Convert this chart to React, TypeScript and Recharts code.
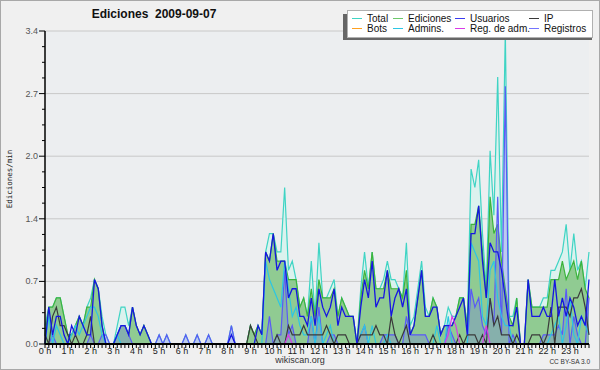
import React from 'react';
import { ComposedChart, Area, Line, XAxis, YAxis, CartesianGrid } from 'recharts';

// one point per 10 minutes, 6 per hour, 0 h .. 23:50
const HOURS = Array.from({ length: 24 }, (_, h) => `${h} h`);
const SLOTS = Array.from({ length: 144 }, (_, i) => i);

// edits per minute (rows = hours)
const total = [
  0.2, 0.4, 0.4, 0.5, 0.5, 0.3,
  0.1, 0.1, 0.2, 0.3, 0.2, 0.4,
  0.5, 0.7, 0.6, 0.3, 0.1, 0.0,
  0.0, 0.2, 0.4, 0.4, 0.2, 0.4,
  0.2, 0.1, 0.2, 0.1, 0.0, 0.0,
  0.1, 0.0, 0.1, 0.0, 0.0, 0.0,
  0.0, 0.1, 0.0, 0.0, 0.1, 0.0,
  0.0, 0.1, 0.0, 0.0, 0.0, 0.0,
  0.0, 0.2, 0.0, 0.0, 0.0, 0.0,
  0.2, 0.1, 0.2, 0.1, 1.0, 1.2,
  1.2, 1.0, 1.0, 1.7, 0.8, 0.9,
  0.7, 0.4, 0.5, 0.3, 0.9, 0.3,
  1.1, 0.5, 0.5, 0.6, 0.7, 0.3,
  0.5, 0.4, 0.3, 0.3, 0.0, 0.6,
  1.0, 0.6, 1.0, 0.6, 0.6, 0.7,
  0.9, 0.7, 0.7, 0.6, 0.5, 1.1,
  0.2, 0.3, 0.6, 0.9, 0.4, 0.3,
  0.5, 0.4, 0.1, 0.2, 0.4, 0.3,
  0.3, 0.5, 0.5, 0.2, 1.9, 1.7,
  2.0, 1.2, 0.6, 2.1, 1.4, 2.9,
  1.0, 3.4, 0.3, 0.3, 0.5, 0.0,
  0.0, 0.7, 0.4, 0.4, 0.4, 0.5,
  0.5, 0.8, 0.8, 0.9, 1.0, 1.3,
  0.8, 1.2, 0.8, 0.9, 0.6, 1.0,
];

const ediciones = [
  0.1, 0.4, 0.4, 0.5, 0.5, 0.3,
  0.1, 0.1, 0.2, 0.3, 0.2, 0.4,
  0.4, 0.7, 0.6, 0.2, 0.0, 0.0,
  0.0, 0.1, 0.2, 0.2, 0.1, 0.4,
  0.2, 0.1, 0.2, 0.1, 0.0, 0.0,
  0.0, 0.0, 0.0, 0.0, 0.0, 0.0,
  0.0, 0.0, 0.0, 0.0, 0.0, 0.0,
  0.0, 0.0, 0.0, 0.0, 0.0, 0.0,
  0.0, 0.0, 0.0, 0.0, 0.0, 0.0,
  0.2, 0.1, 0.2, 0.1, 1.0, 0.9,
  1.2, 0.9, 0.9, 0.9, 0.7, 0.7,
  0.7, 0.4, 0.5, 0.3, 0.6, 0.3,
  0.7, 0.5, 0.5, 0.5, 0.6, 0.3,
  0.5, 0.4, 0.3, 0.3, 0.0, 0.5,
  0.8, 0.6, 1.0, 0.6, 0.6, 0.6,
  0.8, 0.6, 0.6, 0.6, 0.5, 0.8,
  0.1, 0.2, 0.5, 0.8, 0.3, 0.3,
  0.5, 0.4, 0.1, 0.2, 0.2, 0.2,
  0.3, 0.5, 0.5, 0.2, 1.3, 1.3,
  1.5, 1.0, 0.5, 1.6, 1.2, 1.3,
  0.9, 0.6, 0.3, 0.2, 0.5, 0.0,
  0.0, 0.7, 0.4, 0.4, 0.4, 0.4,
  0.4, 0.7, 0.7, 0.7, 0.9, 0.7,
  0.8, 0.9, 0.7, 0.9, 0.6, 0.5,
];

const usuarios = [
  0.0, 0.4, 0.1, 0.3, 0.3, 0.1,
  0.0, 0.2, 0.1, 0.3, 0.2, 0.1,
  0.1, 0.7, 0.6, 0.2, 0.0, 0.0,
  0.0, 0.1, 0.2, 0.2, 0.1, 0.4,
  0.2, 0.1, 0.2, 0.1, 0.0, 0.0,
  0.0, 0.0, 0.0, 0.0, 0.0, 0.0,
  0.0, 0.0, 0.0, 0.0, 0.0, 0.0,
  0.0, 0.0, 0.0, 0.0, 0.0, 0.0,
  0.0, 0.1, 0.0, 0.0, 0.0, 0.0,
  0.0, 0.0, 0.2, 0.1, 1.0, 0.9,
  1.2, 0.8, 0.9, 0.9, 0.5, 0.6,
  0.6, 0.3, 0.3, 0.2, 0.5, 0.2,
  0.6, 0.4, 0.3, 0.4, 0.6, 0.2,
  0.4, 0.3, 0.3, 0.3, 0.0, 0.4,
  0.7, 0.5, 0.9, 0.4, 0.5, 0.5,
  0.8, 0.3, 0.5, 0.6, 0.4, 0.6,
  0.1, 0.2, 0.5, 0.8, 0.3, 0.3,
  0.4, 0.4, 0.1, 0.2, 0.2, 0.2,
  0.3, 0.4, 0.5, 0.1, 1.2, 1.2,
  1.5, 0.9, 0.5, 1.1, 1.0, 1.0,
  0.8, 0.5, 0.2, 0.2, 0.4, 0.0,
  0.0, 0.7, 0.3, 0.3, 0.3, 0.4,
  0.3, 0.3, 0.7, 0.3, 0.5, 0.3,
  0.5, 0.4, 0.2, 0.3, 0.2, 0.7,
];

const ip = [
  0.1, 0.0, 0.3, 0.4, 0.2, 0.2,
  0.1, 0.0, 0.1, 0.0, 0.0, 0.1,
  0.3, 0.0, 0.0, 0.0, 0.0, 0.0,
  0.0, 0.0, 0.0, 0.0, 0.0, 0.0,
  0.0, 0.0, 0.0, 0.0, 0.0, 0.0,
  0.0, 0.0, 0.0, 0.0, 0.0, 0.0,
  0.0, 0.0, 0.0, 0.0, 0.0, 0.0,
  0.0, 0.0, 0.0, 0.0, 0.0, 0.0,
  0.0, 0.0, 0.0, 0.0, 0.0, 0.0,
  0.2, 0.1, 0.0, 0.0, 0.0, 0.0,
  0.0, 0.1, 0.0, 0.0, 0.2, 0.1,
  0.1, 0.1, 0.2, 0.1, 0.1, 0.1,
  0.1, 0.1, 0.2, 0.1, 0.0, 0.1,
  0.1, 0.1, 0.0, 0.0, 0.0, 0.1,
  0.1, 0.1, 0.1, 0.2, 0.1, 0.1,
  0.0, 0.3, 0.1, 0.0, 0.1, 0.2,
  0.0, 0.0, 0.0, 0.0, 0.0, 0.0,
  0.1, 0.0, 0.0, 0.0, 0.0, 0.0,
  0.0, 0.1, 0.0, 0.1, 0.1, 0.1,
  0.0, 0.1, 0.0, 0.5, 0.2, 0.3,
  0.1, 0.1, 0.1, 0.0, 0.1, 0.0,
  0.0, 0.0, 0.1, 0.1, 0.1, 0.0,
  0.1, 0.4, 0.0, 0.4, 0.4, 0.4,
  0.3, 0.5, 0.5, 0.6, 0.4, 0.1,
];

const bots = SLOTS.map(() => 0); // no bot edits that day

const admins = [
  0.0, 0.3, 0.0, 0.2, 0.1, 0.0,
  0.0, 0.1, 0.2, 0.1, 0.2, 0.3,
  0.4, 0.4, 0.3, 0.1, 0.0, 0.0,
  0.0, 0.1, 0.0, 0.0, 0.0, 0.0,
  0.0, 0.0, 0.0, 0.0, 0.0, 0.0,
  0.0, 0.0, 0.0, 0.0, 0.0, 0.0,
  0.0, 0.0, 0.0, 0.0, 0.0, 0.0,
  0.0, 0.0, 0.0, 0.0, 0.0, 0.0,
  0.0, 0.0, 0.0, 0.0, 0.0, 0.0,
  0.0, 0.0, 0.0, 0.0, 0.9, 0.7,
  0.6, 0.5, 0.4, 0.9, 0.6, 0.3,
  0.4, 0.2, 0.1, 0.1, 0.3, 0.0,
  0.3, 0.0, 0.1, 0.2, 0.0, 0.0,
  0.0, 0.0, 0.0, 0.0, 0.0, 0.1,
  0.2, 0.0, 0.2, 0.0, 0.0, 0.0,
  0.1, 0.0, 0.0, 0.0, 0.0, 0.0,
  0.0, 0.0, 0.0, 0.0, 0.0, 0.0,
  0.0, 0.2, 0.0, 0.0, 0.3, 0.0,
  0.0, 0.0, 0.0, 0.0, 1.1, 1.0,
  0.9, 0.3, 0.2, 0.8, 0.9, 0.5,
  0.3, 0.2, 0.2, 0.0, 0.0, 0.0,
  0.0, 0.0, 0.0, 0.0, 0.0, 0.0,
  0.0, 0.1, 0.2, 0.3, 0.0, 0.2,
  0.5, 0.1, 0.0, 0.3, 0.2, 0.1,
];

const regAdm = [
  0, 0, 0, 0, 0, 0,   0, 0, 0, 0, 0, 0,   0, 0, 0, 0, 0, 0,
  0, 0, 0, 0, 0, 0,   0, 0, 0, 0, 0, 0,   0, 0, 0, 0, 0, 0,
  0, 0, 0, 0, 0, 0,   0, 0, 0, 0, 0, 0,   0, 0, 0, 0, 0, 0,
  0, 0, 0, 0, 0, 0,   0, 0, 0, 0, 0.1, 0, 0, 0, 0, 0, 0, 0,
  0, 0, 0, 0, 0, 0,   0, 0, 0, 0, 0, 0,   0, 0, 0, 0, 0, 0,
  0, 0, 0, 0, 0, 0,   0, 0, 0, 0, 0, 0,   0, 0, 0, 0, 0.1, 0.3,
  0.2, 0, 0, 0, 0, 0, 0, 0, 0.2, 0, 0, 0,  0, 0, 0, 0, 0, 0,
  0, 0, 0, 0, 0, 0,   0, 0, 0, 0, 0, 0,
];

const registros = [
  0.0, 0.0, 0.1, 0.0, 0.0, 0.0,
  0.0, 0.0, 0.0, 0.0, 0.0, 0.0,
  0.1, 0.0, 0.0, 0.1, 0.1, 0.0,
  0.0, 0.1, 0.2, 0.2, 0.1, 0.0,
  0.0, 0.0, 0.0, 0.0, 0.0, 0.0,
  0.1, 0.0, 0.1, 0.0, 0.0, 0.0,
  0.0, 0.1, 0.0, 0.0, 0.1, 0.0,
  0.0, 0.1, 0.0, 0.0, 0.0, 0.0,
  0.0, 0.2, 0.0, 0.0, 0.0, 0.0,
  0.0, 0.0, 0.0, 0.0, 0.0, 0.3,
  0.0, 0.1, 0.1, 0.8, 0.1, 0.2,
  0.0, 0.0, 0.0, 0.0, 0.3, 0.0,
  0.4, 0.0, 0.0, 0.1, 0.1, 0.0,
  0.0, 0.0, 0.0, 0.0, 0.0, 0.1,
  0.2, 0.0, 0.0, 0.0, 0.0, 0.1,
  0.1, 0.1, 0.1, 0.0, 0.0, 0.3,
  0.1, 0.1, 0.1, 0.1, 0.1, 0.0,
  0.0, 0.0, 0.0, 0.0, 0.2, 0.1,
  0.0, 0.0, 0.0, 0.0, 0.6, 0.4,
  0.5, 0.2, 0.1, 0.5, 0.2, 1.6,
  0.1, 2.8, 0.0, 0.1, 0.0, 0.0,
  0.0, 0.0, 0.0, 0.0, 0.0, 0.1,
  0.1, 0.1, 0.1, 0.2, 0.1, 0.6,
  0.0, 0.3, 0.1, 0.0, 0.0, 0.5,
];

const Y_TICKS = Array.from({ length: 21 }, (_, k) => k * 0.17);
const Y_MAJOR = [0.68, 1.36, 2.04, 2.72, 3.4];

const C = {
  total: '#3fd4c4',
  totalFill: '#dbf2ee',
  ediciones: '#3cb43c',
  edicionesFill: '#8cc88c',
  usuarios: '#1616e2',
  ip: '#3a3a3a',
  bots: '#ffa020',
  admins: '#2cc6e4',
  regAdm: '#d83ae8',
  registros: '#5a5af6',
};

const LEGEND = [
  ['Total', C.total], ['Ediciones', '#6cc86c'], ['Usuarios', '#3a3af0'], ['IP', C.ip],
  ['Bots', C.bots], ['Admins.', C.admins], ['Reg. de adm.', C.regAdm], ['Registros', '#7474ff'],
];
const LEGEND_X = [352, 393, 455, 529];

const rows = SLOTS.map((s, i) => ({
  slot: s,
  total: total[i],
  ediciones: ediciones[i],
  usuarios: usuarios[i],
  ip: ip[i],
  bots: bots[i],
  admins: admins[i],
  regAdm: regAdm[i],
  registros: registros[i],
}));

const FONT = '"Liberation Sans", Arial, sans-serif';

const YTick = ({ x, y, payload }: any) => {
  const major = Math.round(payload.value / 0.17) % 4 === 0;
  return (
    <g>
      <line x1={x - (major ? 6 : 3)} x2={x} y1={y} y2={y} stroke="#000" />
      {major && (
        <text x={x - 7} y={y + 3} textAnchor="end" fontSize={9} fill="#555" fontFamily={FONT}>
          {payload.value.toFixed(1)}
        </text>
      )}
    </g>
  );
};

const XTick = ({ x, y, payload }: any) => {
  const i = payload.value;
  return (
    <g>
      <line x1={x} x2={x} y1={y} y2={y + 4} stroke="#000" />
      {i % 6 === 0 && (
        <text x={x} y={y + 9.5} textAnchor="middle" fontSize={9} fill="#222" fontFamily={FONT}>
          {HOURS[i / 6]}
        </text>
      )}
    </g>
  );
};

export default function App() {
  return (
    <div style={{ position: 'relative', width: 600, height: 370, background: '#f0f0f0', fontFamily: FONT }}>
      <style>{'body{margin:0}'}</style>
      <ComposedChart width={600} height={370} data={rows} margin={{ top: 31, right: 11, bottom: 6, left: 5 }}>
        <CartesianGrid vertical={false} horizontalValues={Y_MAJOR} stroke="#c8c8c8" fill="#eceef0" fillOpacity={1} />
        <XAxis
          dataKey="slot"
          type="number"
          domain={[0, 143]}
          ticks={SLOTS}
          interval={0}
          height={20}
          tickSize={0}
          tickMargin={0}
          tick={<XTick />}
          axisLine={{ stroke: '#000', strokeWidth: 2 }}
        />
        <YAxis
          type="number"
          domain={[0, 3.4]}
          ticks={Y_TICKS}
          interval={0}
          width={40}
          tickSize={0}
          tickMargin={0}
          tick={<YTick />}
          axisLine={{ stroke: '#000', strokeWidth: 1.5 }}
        />
        <Area type="linear" dataKey="total" stroke={C.total} strokeWidth={1.2} fill={C.totalFill} fillOpacity={1} dot={false} isAnimationActive={false} />
        <Area type="linear" dataKey="ediciones" stroke={C.ediciones} strokeWidth={1.2} fill={C.edicionesFill} fillOpacity={0.95} dot={false} isAnimationActive={false} />
        <Area type="linear" dataKey="registros" stroke={C.registros} strokeWidth={1.2} fill="#6a6af0" fillOpacity={0.28} dot={false} isAnimationActive={false} />
        <Line type="linear" dataKey="admins" stroke={C.admins} strokeWidth={1.2} dot={false} isAnimationActive={false} />
        <Line type="linear" dataKey="ip" stroke={C.ip} strokeWidth={1.2} dot={false} isAnimationActive={false} />
        <Line type="linear" dataKey="usuarios" stroke={C.usuarios} strokeWidth={1.3} dot={false} isAnimationActive={false} />
        <Line type="linear" dataKey="regAdm" stroke={C.regAdm} strokeWidth={1.2} dot={false} isAnimationActive={false} />
        <Line type="linear" dataKey="bots" stroke={C.bots} strokeWidth={1} dot={false} isAnimationActive={false} />
      </ComposedChart>

      {/* title */}
      <div style={{ position: 'absolute', left: 0, width: 308, top: 7, textAlign: 'center', fontWeight: 'bold', fontSize: 12, color: '#111', whiteSpace: 'pre' }}>
        {'Ediciones  2009-09-07'}
      </div>

      {/* y axis label */}
      <div style={{ position: 'absolute', left: 9, top: 179, transform: 'translate(-50%,-50%) rotate(-90deg)', fontFamily: '"DejaVu Sans Mono", monospace', fontSize: 7.5, color: '#222', whiteSpace: 'nowrap' }}>
        Ediciones/min
      </div>

      {/* legend */}
      <div style={{ position: 'absolute', left: 343, top: 14, width: 249, height: 26, background: '#666' }} />
      <div style={{ position: 'absolute', left: 347, top: 10, width: 244, height: 26, background: '#fff', border: '1px solid #b0b0b0' }} />
      {LEGEND.map(([name, color], k) => (
        <div key={name} style={{ position: 'absolute', left: LEGEND_X[k % 4], top: k < 4 ? 13 : 23, height: 11, display: 'flex', alignItems: 'center', fontSize: 10, color: '#111', whiteSpace: 'nowrap' }}>
          <span style={{ display: 'inline-block', width: 10, height: 1, background: color, marginRight: 5 }} />
          {name}
        </div>
      ))}

      <div style={{ position: 'absolute', left: 0, width: 600, top: 355, textAlign: 'center', fontSize: 9, color: '#333' }}>wikiscan.org</div>
      <div style={{ position: 'absolute', right: 10, top: 358, fontSize: 6.5, color: '#333' }}>CC BY-SA 3.0</div>

      <div style={{ position: 'absolute', inset: 0, border: '1px solid #a8a8a8', pointerEvents: 'none' }} />
    </div>
  );
}
